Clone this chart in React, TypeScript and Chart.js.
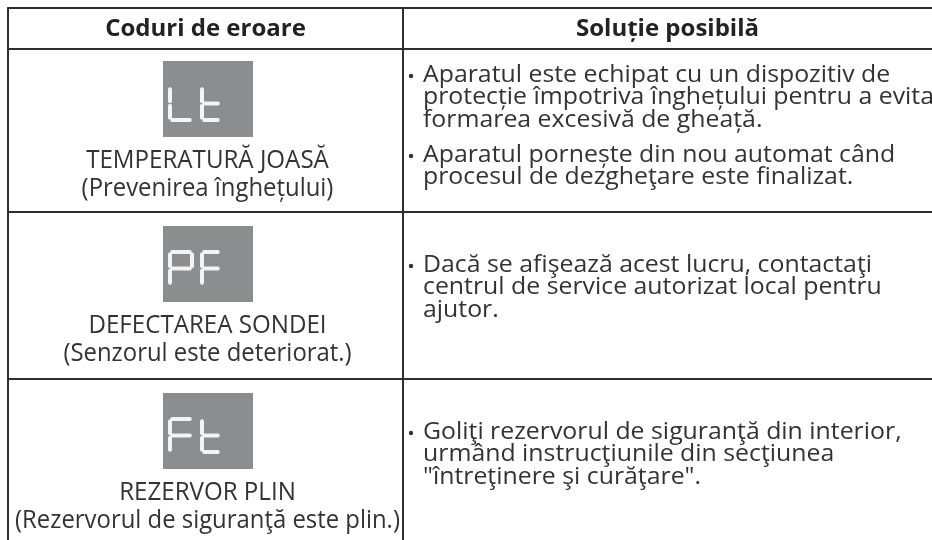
import React, { useEffect, useRef } from "react";
import { Chart, registerables } from "chart.js";

Chart.register(...registerables);

// ---- content ----
const headers = ["Coduri de eroare", "Soluție posibilă"];
const codes = ["Lt", "PF", "Ft"];
const titles = ["TEMPERATURĂ JOASĂ", "DEFECTAREA SONDEI", "REZERVOR PLIN"];
const subtitles = [
  "(Prevenirea înghețului)",
  "(Senzorul este deteriorat.)",
  "(Rezervorul de siguranţă este plin.)",
];
const solutions1 = [
  [
    "Aparatul este echipat cu un dispozitiv de",
    "protecție împotriva înghețului pentru a evita",
    "formarea excesivă de gheață.",
  ],
  [
    "Aparatul pornește din nou automat când",
    "procesul de dezgheţare este finalizat.",
  ],
];
const solutions2 = [
  [
    "Dacă se afişează acest lucru, contactaţi",
    "centrul de service autorizat local pentru",
    "ajutor.",
  ],
];
const solutions3 = [
  [
    "Goliţi rezervorul de siguranţă din interior,",
    "urmând instrucţiunile din secţiunea",
    "\"întreţinere şi curăţare\".",
  ],
];
const solutions = [solutions1, solutions2, solutions3];

// ---- layout (page pixel units on the chart's linear scales) ----
const W = 932;
const H = 540;
const TABLE_LEFT = 8;
const COL_SPLIT = 403;
const ROW_LINES = [8, 49, 212, 379];
const BOX_X = [163, 253];
const BOX_TOP_OFFSET = [12, 14, 14];
const BOX_H = 76;
const TEXT_FIRST_OFFSET = [26, 53, 53];

const FONT = "'Open Sans', 'Noto Sans', sans-serif";
const LINE = "#2e2e2e";
const TEXT = "#333333";

// 7-segment glyph definitions (a top, b upper-right, c lower-right, d bottom, e lower-left, f upper-left, g middle)
const SEG: Record<string, string> = {
  L: "fed",
  t: "fedg",
  P: "abfeg",
  F: "afeg",
};

function drawText(
  ctx: CanvasRenderingContext2D,
  text: string,
  x: number,
  y: number,
  align: CanvasTextAlign,
  font: string,
  color: string,
  sx: number
) {
  ctx.save();
  ctx.font = font;
  ctx.fillStyle = color;
  ctx.textAlign = align;
  ctx.textBaseline = "middle";
  ctx.translate(x, y);
  ctx.scale(sx, 1);
  ctx.fillText(text, 0, 0);
  ctx.restore();
}

function drawSegChar(
  ctx: CanvasRenderingContext2D,
  ch: string,
  x: number,
  y: number,
  w: number,
  h: number
) {
  const segs = SEG[ch] || "";
  const g = 2.2;
  const m = y + h / 2;
  const lines: Record<string, number[]> = {
    a: [x + g, y, x + w - g, y],
    b: [x + w, y + g, x + w, m - g],
    c: [x + w, m + g, x + w, y + h - g],
    d: [x + g, y + h, x + w - g, y + h],
    e: [x, m + g, x, y + h - g],
    f: [x, y + g, x, m - g],
    g: [x + g, m, x + w - g, m],
  };
  ctx.save();
  ctx.strokeStyle = "#f4f4f4";
  ctx.lineWidth = 4;
  ctx.lineCap = "round";
  for (const s of segs) {
    const [x1, y1, x2, y2] = lines[s];
    ctx.beginPath();
    ctx.moveTo(x1, y1);
    ctx.lineTo(x2, y2);
    ctx.stroke();
  }
  ctx.restore();
}

const tablePlugin = {
  id: "tablePlugin",
  afterDraw(chart: any) {
    const ctx: CanvasRenderingContext2D = chart.ctx;
    const xs = chart.scales.x;
    const ys = chart.scales.y;
    const px = (v: number) => xs.getPixelForValue(v);
    const py = (v: number) => ys.getPixelForValue(v);

    ctx.save();
    ctx.fillStyle = "#ffffff";
    ctx.fillRect(px(0), py(0), px(W) - px(0), py(H) - py(0));

    // headers
    const hy = py((ROW_LINES[0] + ROW_LINES[1]) / 2 + 0.5);
    drawText(ctx, headers[0], px((TABLE_LEFT + COL_SPLIT) / 2), hy, "center", `bold 24px ${FONT}`, "#222", 1);
    drawText(ctx, headers[1], px((COL_SPLIT + W) / 2), hy, "center", `bold 24px ${FONT}`, "#222", 1);

    const leftCenter = (TABLE_LEFT + COL_SPLIT) / 2 + 2;
    codes.forEach((code, i) => {
      const rowTop = ROW_LINES[i + 1];
      const bTop = rowTop + BOX_TOP_OFFSET[i];
      ctx.fillStyle = "#8c8d8f";
      ctx.fillRect(px(BOX_X[0]), py(bTop), px(BOX_X[1]) - px(BOX_X[0]), py(bTop + BOX_H) - py(bTop));
      // segmented code
      const cells = [
        [BOX_X[0] + 7, 22],
        [BOX_X[0] + 39, 18],
      ];
      code.split("").forEach((ch, k) => {
        const [cx, cw] = cells[k];
        drawSegChar(ctx, ch, px(cx), py(bTop + 26), px(cx + cw) - px(cx), py(bTop + 59) - py(bTop + 26));
      });
      const ty = bTop + BOX_H + 23.5;
      drawText(ctx, titles[i], px(leftCenter), py(ty), "center", `25px ${FONT}`, TEXT, 0.965);
      drawText(ctx, subtitles[i], px(leftCenter), py(ty + 28.5), "center", `25px ${FONT}`, TEXT, 0.955);

      // solutions
      let y = rowTop + TEXT_FIRST_OFFSET[i];
      solutions[i].forEach((bullet, bi) => {
        if (bi > 0) y += 12.5;
        ctx.fillStyle = TEXT;
        ctx.beginPath();
        ctx.arc(px(411), py(y + 1), 2.2, 0, Math.PI * 2);
        ctx.fill();
        bullet.forEach((ln, li) => {
          if (li > 0) y += 22.5;
          drawText(ctx, ln, px(423), py(y), "left", `23px ${FONT}`, TEXT, 1.08);
        });
        y += 22.5;
      });
    });

    // grid lines
    ctx.strokeStyle = LINE;
    ctx.lineWidth = 2;
    ROW_LINES.forEach((ly) => {
      ctx.beginPath();
      ctx.moveTo(px(TABLE_LEFT - 1), py(ly));
      ctx.lineTo(px(W), py(ly));
      ctx.stroke();
    });
    [TABLE_LEFT, COL_SPLIT].forEach((lx) => {
      ctx.beginPath();
      ctx.moveTo(px(lx), py(ROW_LINES[0] - 1));
      ctx.lineTo(px(lx), py(H));
      ctx.stroke();
    });
    ctx.restore();
  },
};

export default function App() {
  const ref = useRef<HTMLCanvasElement>(null);
  useEffect(() => {
    document.body.style.margin = "0";
    document.body.style.overflow = "hidden";
    const chart = new Chart(ref.current as HTMLCanvasElement, {
      type: "scatter",
      data: { datasets: [] },
      options: {
        animation: false,
        responsive: true,
        maintainAspectRatio: false,
        layout: { padding: 0 },
        plugins: { legend: { display: false }, tooltip: { enabled: false } },
        scales: {
          x: { type: "linear", min: 0, max: W, display: false },
          y: { type: "linear", min: 0, max: H, reverse: true, display: false },
        },
      },
      plugins: [tablePlugin],
    });
    return () => chart.destroy();
  }, []);
  return (
    <div style={{ width: W, height: H, position: "relative" }}>
      <canvas ref={ref} />
    </div>
  );
}
